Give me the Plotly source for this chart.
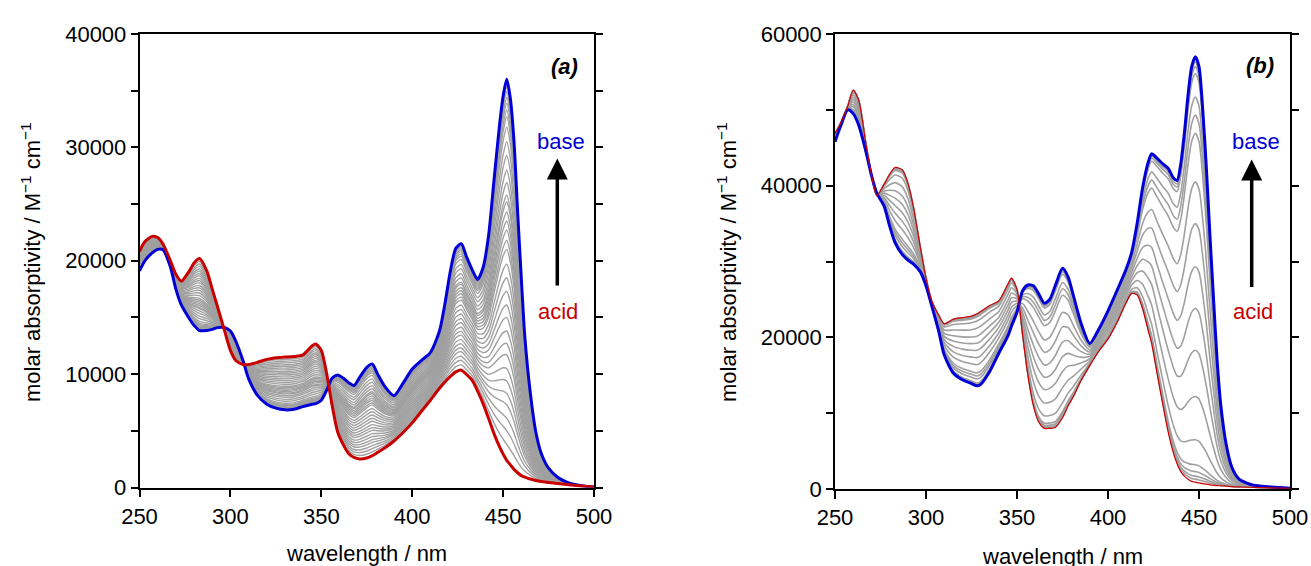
import numpy as np
import plotly.graph_objects as go

W, H = 1311, 566

# ---------------- Panel (a) ----------------
wl_a = [250, 253, 257, 260, 263, 267, 270, 273, 277, 280, 283, 287, 290, 293, 297,
        300, 303, 307, 310, 315, 320, 325, 330, 335, 340, 345, 347, 350, 353, 356,
        359, 362, 365, 368, 371, 375, 378, 381, 385, 390, 395, 400, 405, 410, 415,
        418, 421, 424, 427, 430, 433, 436, 439, 442, 445, 448, 450, 452, 454, 456,
        458, 460, 462, 465, 468, 471, 475, 480, 485, 490, 495, 500]
base_a = [19100, 20000, 20700, 21000, 20950, 19450, 17500, 16100, 15000, 14300, 13850, 13850, 13950, 14100, 14100,
          13800, 12900, 11150, 9600, 8100, 7350, 7000, 6850, 6900, 7150, 7350, 7400, 7700, 8600, 9650,
          9930, 9650, 9250, 9000, 9700, 10600, 10900, 10000, 8900, 8100, 9200, 10450, 11200, 11900, 13800,
          16200, 19100, 21100, 21500, 20300, 19200, 18350, 19400, 22200, 27100, 31900, 34500, 36000, 34300, 30500,
          24300, 18500, 13200, 8300, 4900, 3000, 1700, 900, 470, 250, 120, 50]
acid_a = [20840, 21700, 22150, 22050, 21450, 20000, 18800, 18200, 19000, 19800, 20200, 19100, 17500, 15900, 13700,
          12100, 11200, 10850, 10850, 11050, 11300, 11450, 11500, 11550, 11700, 12500, 12650, 12100, 10000, 7200,
          4900, 3800, 3000, 2650, 2520, 2600, 2800, 3100, 3500, 4100, 4850, 5700, 6700, 7700, 8750,
          9300, 9800, 10200, 10350, 9950, 9450, 8500, 7400, 6100, 4750, 3600, 2960, 2400, 2000, 1600,
          1300, 1050, 920, 750, 620, 530, 450, 350, 260, 180, 100, 50]
# molar absorptivity at 452 nm of each intermediate (gray) spectrum
gray_peak_a = [35300, 34900, 34400, 33900, 33300, 32700, 31800, 30500, 29300, 28000, 26900,
               25800, 25200, 24300, 23500, 22700, 21800, 21000, 19700, 18500, 17300, 16100,
               15000, 13800, 12700, 11700, 10500, 9400, 8300, 7300, 6100, 5000, 3800]
peak_wl_a = 452

# ---------------- Panel (b) ----------------
wl_b = [250, 253, 257, 260, 263, 267, 270, 273, 277, 280, 283, 287, 290, 293, 297,
        300, 303, 307, 310, 315, 320, 325, 328, 330, 335, 340, 345, 347, 350, 353,
        356, 359, 362, 365, 368, 371, 375, 378, 381, 385, 390, 395, 400, 405, 410,
        413, 416, 419, 422, 424, 427, 430, 433, 436, 438, 440, 442, 444, 446, 448,
        450, 452, 454, 456, 458, 460, 462, 465, 468, 472, 476, 480, 490, 500]
base_b = [45800, 47800, 50000, 49500, 48000, 44500, 41400, 39000, 37300, 34700, 32500, 30900, 30200, 29700, 28600,
          26800, 24300, 20800, 17700, 15300, 14400, 13900, 13600, 13800, 15500, 17900, 20200, 21500, 23300, 26100,
          26900, 26800, 25700, 24500, 25000, 26800, 29100, 28000, 25500, 22000, 19200, 21100, 23500, 26200, 29000,
          31200, 35000, 39700, 43000, 44200, 43600, 42900, 42300, 41000, 40700, 42900, 47000, 52000, 55700, 57000,
          55700, 50200, 42500, 33500, 25000, 16800, 11000, 5800, 2900, 1300, 800, 500, 250, 100]
acid_b = [46900, 48200, 50500, 52600, 51300, 45500, 41500, 38700, 40200, 41500, 42400, 42100, 40400, 37300, 31700,
          27800, 24900, 22900, 21800, 22400, 22600, 22800, 23100, 23400, 24200, 24800, 27000, 27800, 26300, 20500,
          15000, 11000, 8800, 8000, 8000, 8100, 9400, 10900, 12200, 14200, 16300, 18200, 19800, 22000, 24600,
          25800, 25600, 23800, 21000, 19200, 15200, 11300, 7600, 4700, 3300, 2300, 1700, 1300, 1000, 900,
          800, 700, 650, 550, 500, 450, 420, 380, 320, 280, 250, 220, 150, 100]
# molar absorptivity at 448 nm of each intermediate (gray) spectrum
gray_peak_b = [56300, 55700, 54800, 51700, 49300, 46900, 40500, 35000, 29300, 23800,
               18300, 12200, 6500, 3200, 2300, 1700, 1300]
peak_wl_b = 448

x_ticks = [250, 300, 350, 400, 450, 500]

FONT = "Liberation Sans, Arial, sans-serif"
GRAY = "rgb(160,160,160)"
BLUE = "rgb(0,0,215)"
RED = "rgb(200,0,0)"


def intermediates(wl, acid, base, peaks, peak_wl):
    a = np.array(acid, float)
    b = np.array(base, float)
    i = wl.index(peak_wl)
    out = []
    for p in peaks:
        f = (p - a[i]) / (b[i] - a[i])
        out.append(a + f * (b - a))
    return out


fig = go.Figure()

for ys in intermediates(wl_a, acid_a, base_a, gray_peak_a, peak_wl_a):
    fig.add_trace(go.Scatter(x=wl_a, y=ys, mode="lines", xaxis="x", yaxis="y",
                             line=dict(color=GRAY, width=1.4, shape="spline", smoothing=0.7)))
fig.add_trace(go.Scatter(x=wl_a, y=base_a, mode="lines", xaxis="x", yaxis="y",
                         line=dict(color=BLUE, width=3, shape="spline", smoothing=0.7)))
fig.add_trace(go.Scatter(x=wl_a, y=acid_a, mode="lines", xaxis="x", yaxis="y",
                         line=dict(color=RED, width=3, shape="spline", smoothing=0.7)))

for ys in intermediates(wl_b, acid_b, base_b, gray_peak_b, peak_wl_b):
    fig.add_trace(go.Scatter(x=wl_b, y=ys, mode="lines", xaxis="x2", yaxis="y2",
                             line=dict(color=GRAY, width=1.6, shape="spline", smoothing=0.7)))
fig.add_trace(go.Scatter(x=wl_b, y=base_b, mode="lines", xaxis="x2", yaxis="y2",
                         line=dict(color=BLUE, width=3, shape="spline", smoothing=0.7)))
fig.add_trace(go.Scatter(x=wl_b, y=acid_b, mode="lines", xaxis="x2", yaxis="y2",
                         line=dict(color=RED, width=1.2, shape="spline", smoothing=0.7)))


def px(x):
    return x / W


def py(y):
    return 1 - y / H


ax_common = dict(showline=True, linecolor="black", linewidth=1.5, showgrid=False, zeroline=False,
                 ticks="outside", tickwidth=1.5, tickcolor="black", automargin=False,
                 tickfont=dict(family=FONT, size=22, color="black"))

ya_vals = list(range(0, 40001, 5000))
ya_text = [str(v) if v % 10000 == 0 else " " for v in ya_vals]
yb_vals = list(range(0, 60001, 10000))
yb_text = [str(v) if v % 20000 == 0 else " " for v in yb_vals]

fig.update_layout(
    width=W, height=H,
    margin=dict(l=0, r=0, t=0, b=0),
    paper_bgcolor="white", plot_bgcolor="white",
    showlegend=False,
    hovermode=False,
    font=dict(family=FONT, size=22, color="black"),
    xaxis=dict(domain=[px(139.5), px(594)], range=[250, 500], anchor="y",
               tickvals=x_ticks, ticklen=8, mirror=True, **ax_common),
    yaxis=dict(domain=[py(487.5), py(34)], range=[0, 40000], anchor="x",
               tickvals=ya_vals, ticktext=ya_text, ticklen=7, mirror="ticks", **ax_common),
    xaxis2=dict(domain=[px(835), px(1290)], range=[250, 500], anchor="y2",
                tickvals=x_ticks, ticklen=8, mirror=True, **ax_common),
    yaxis2=dict(domain=[py(489), py(34)], range=[0, 60000], anchor="x2",
                tickvals=yb_vals, ticktext=yb_text, ticklen=7, mirror="ticks", **ax_common),
)

ytitle = "molar absorptivity / M<sup>−1</sup> cm<sup>−1</sup>"
ann = []


def text(x, y, s, color="black", size=22, angle=0):
    ann.append(dict(x=px(x), y=py(y), xref="paper", yref="paper", text=s, showarrow=False,
                    xanchor="center", yanchor="middle", textangle=angle,
                    font=dict(family=FONT, size=size, color=color)))


text(366.8, 553, "wavelength / nm")
text(1062.5, 556, "wavelength / nm")
text(31, 262, ytitle, angle=-90)
text(727, 262, ytitle, angle=-90)
text(564.5, 66.5, "<b><i>(a)</i></b>")
text(1260, 65.5, "<b><i>(b)</i></b>")
text(561, 141, "base", color=BLUE)
text(558, 311, "acid", color=RED)
text(1256.3, 141, "base", color=BLUE)
text(1252.5, 311, "acid", color=RED)

for xa, yhead, ytail in [(557.3, 158.5, 287), (1251.7, 159.5, 288.5)]:
    ann.append(dict(x=px(xa), y=py(yhead), xref="paper", yref="paper", text="",
                    showarrow=True, ax=0, ay=ytail - yhead, axref="pixel", ayref="pixel",
                    arrowhead=2, arrowsize=1.2, arrowwidth=3.5, arrowcolor="black", standoff=0))

fig.update_layout(annotations=ann)

fig.write_html("out.html", config={"displayModeBar": False},
               post_script="document.body.style.margin='0px';document.body.style.overflow='hidden';")
